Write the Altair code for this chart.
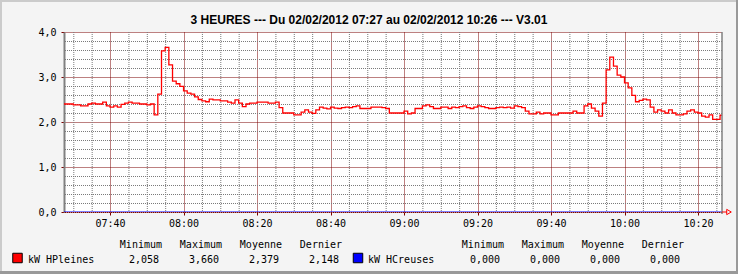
import altair as alt
import pandas as pd

DAY = "2012-02-02 "
MONO = "DejaVu Sans Mono"

# ---- data: change points of the HPleines step series (1-minute steps) ----
hp_times = ["07:27", "07:30", "07:32", "07:34", "07:35", "07:36", "07:38", "07:39",
            "07:40", "07:41", "07:42", "07:43", "07:44", "07:45", "07:46", "07:48",
            "07:50", "07:51", "07:52", "07:53", "07:54", "07:55", "07:56", "07:57",
            "07:58", "07:59", "08:00", "08:01", "08:02", "08:03", "08:04", "08:05",
            "08:06", "08:07", "08:08", "08:10", "08:12", "08:13", "08:14", "08:15",
            "08:16", "08:17", "08:18", "08:20", "08:23", "08:25", "08:26", "08:27",
            "08:30", "08:32", "08:33", "08:34", "08:35", "08:36", "08:37", "08:38",
            "08:39", "08:40", "08:41", "08:42", "08:43", "08:44", "08:45", "08:46",
            "08:47", "08:48", "08:51", "08:54", "08:55", "08:56", "09:00", "09:01",
            "09:02", "09:03", "09:05", "09:06", "09:07", "09:08", "09:10", "09:12",
            "09:13", "09:14", "09:15", "09:16", "09:17", "09:18", "09:19", "09:20",
            "09:21", "09:22", "09:23", "09:25", "09:26", "09:27", "09:28", "09:29",
            "09:30", "09:31", "09:32", "09:33", "09:34", "09:36", "09:37", "09:38",
            "09:40", "09:42", "09:46", "09:47", "09:49", "09:50", "09:51", "09:52",
            "09:53", "09:54", "09:55", "09:56", "09:57", "09:58", "09:59", "10:00",
            "10:01", "10:02", "10:03", "10:04", "10:05", "10:06", "10:07", "10:08",
            "10:09", "10:10", "10:11", "10:12", "10:13", "10:14", "10:16", "10:17",
            "10:18", "10:19", "10:20", "10:21", "10:22", "10:23", "10:24", "10:26",
            "10:27"]
hp_values = [2.40, 2.38, 2.36, 2.40, 2.42, 2.40, 2.44, 2.36,
             2.33, 2.36, 2.33, 2.39, 2.42, 2.44, 2.42, 2.40,
             2.38, 2.40, 2.16, 2.62, 3.58, 3.66, 3.27, 2.91,
             2.85, 2.79, 2.69, 2.64, 2.62, 2.56, 2.50, 2.47,
             2.45, 2.51, 2.49, 2.47, 2.44, 2.42, 2.49, 2.42,
             2.34, 2.40, 2.42, 2.44, 2.42, 2.44, 2.32, 2.20,
             2.16, 2.22, 2.27, 2.22, 2.19, 2.27, 2.33, 2.31,
             2.29, 2.33, 2.31, 2.30, 2.32, 2.33, 2.32, 2.34,
             2.36, 2.30, 2.33, 2.32, 2.30, 2.20, 2.24, 2.18,
             2.20, 2.30, 2.36, 2.38, 2.34, 2.30, 2.33, 2.30,
             2.33, 2.32, 2.34, 2.36, 2.32, 2.30, 2.33, 2.36,
             2.34, 2.32, 2.30, 2.32, 2.33, 2.32, 2.33, 2.31,
             2.36, 2.34, 2.32, 2.24, 2.18, 2.22, 2.18, 2.20,
             2.16, 2.20, 2.24, 2.20, 2.36, 2.40, 2.31, 2.24,
             2.13, 2.42, 3.16, 3.44, 3.24, 3.04, 3.00, 2.87,
             2.76, 2.59, 2.45, 2.48, 2.51, 2.49, 2.33, 2.22,
             2.27, 2.24, 2.20, 2.27, 2.20, 2.16, 2.18, 2.24,
             2.27, 2.22, 2.20, 2.13, 2.11, 2.16, 2.06, 2.15,
             2.15]

hc_times = ["07:27", "10:27"]
hc_values = [0.0, 0.0]

title_text = "3 HEURES --- Du 02/02/2012 07:27 au 02/02/2012 10:26 --- V3.01"
series_names = ["kW HPleines", "kW HCreuses"]
series_colors = ["#FF0000", "#0000FF"]
stat_names = ["Minimum", "Maximum", "Moyenne", "Dernier"]
hp_stats = ["2,058", "3,660", "2,379", "2,148"]
hc_stats = ["0,000", "0,000", "0,000", "0,000"]

major_x = ["07:40", "08:00", "08:20", "08:40", "09:00", "09:20", "09:40", "10:00", "10:20"]
minor_x = ["07:30", "07:35", "07:45", "07:50", "07:55", "08:05", "08:10", "08:15",
           "08:25", "08:30", "08:35", "08:45", "08:50", "08:55", "09:05", "09:10",
           "09:15", "09:25", "09:30", "09:35", "09:45", "09:50", "09:55", "10:05",
           "10:10", "10:15", "10:25"]
major_y = [0, 1, 2, 3, 4]
minor_y = [0.2, 0.4, 0.6, 0.8, 1.2, 1.4, 1.6, 1.8, 2.2, 2.4, 2.6, 2.8, 3.2, 3.4, 3.6, 3.8]


def ts(hhmm):
    return pd.Timestamp(DAY + hhmm)


def dt(hhmm, sec=0):
    h, m = hhmm.split(":")
    return alt.DateTime(year=2012, month=2, date=2, hours=int(h), minutes=int(m), seconds=sec)


hp_df = pd.DataFrame({"t": [ts(t) for t in hp_times], "v": hp_values})
hc_df = pd.DataFrame({"t": [ts(t) for t in hc_times], "v": hc_values})
minx_df = pd.DataFrame({"t": [ts(t) for t in minor_x]})
miny_df = pd.DataFrame({"v": minor_y})
zero_df = pd.DataFrame({"v": [major_y[0]]})
one_df = pd.DataFrame({"a": [0]})

GRID_MAJOR = "#7A0000"
GRID_MINOR = "#7A7A7A"

x_scale = alt.Scale(domain=[dt("07:27", 28), dt("10:26", 32)])
y_scale = alt.Scale(domain=[major_y[0], major_y[-1]], nice=False, zero=False)

x_axis = alt.Axis(values=[dt(t) for t in major_x], format="%H:%M", grid=True,
                  gridColor=GRID_MAJOR, gridDash=[1, 1], gridWidth=1, domain=False,
                  ticks=True, tickColor=GRID_MAJOR, tickSize=3, labelFont=MONO,
                  labelFontSize=10, labelColor="black", labelPadding=3,
                  labelFlush=False, labelOverlap=False)
y_axis = alt.Axis(values=major_y, labelExpr="replace(format(datum.value, '.1f'), '.', ',')",
                  grid=True, gridColor=GRID_MAJOR, gridDash=[1, 1], gridWidth=1,
                  domain=True, domainColor="#808080", domainWidth=2, ticks=True,
                  tickColor=GRID_MAJOR, tickSize=3, labelFont=MONO, labelFontSize=10,
                  labelColor="black", labelPadding=5, labelFlush=False, labelOverlap=False)

X = alt.X("t:T", scale=x_scale, axis=x_axis, title=None)
Y = alt.Y("v:Q", scale=y_scale, axis=y_axis, title=None)

minor_xr = alt.Chart(minx_df).mark_rule(color=GRID_MINOR, strokeDash=[1, 1], strokeWidth=1,
                                        xOffset=0.5).encode(x=X)
minor_yr = alt.Chart(miny_df).mark_rule(color=GRID_MINOR, strokeDash=[1, 1], strokeWidth=1,
                                        yOffset=0.5).encode(y=Y)

hc_line = alt.Chart(hc_df).mark_line(interpolate="step-after", color=series_colors[1],
                                     strokeWidth=1.2, clip=True).encode(x=X, y=Y)
zero_rule = alt.Chart(zero_df).mark_rule(color=GRID_MAJOR, strokeDash=[1, 1], strokeWidth=1,
                                         yOffset=0.5).encode(y=Y)
hp_line = alt.Chart(hp_df).mark_line(interpolate="step-after", color=series_colors[0],
                                     strokeWidth=1.3, clip=True).encode(x=X, y=Y)

W, H = 658, 180

right_frame = alt.Chart(one_df).mark_rule(color="#808080", strokeWidth=1.5).encode(
    x=alt.value(W), y=alt.value(0), y2=alt.value(H + 2))
arrow_stub = alt.Chart(one_df).mark_rule(color="#FF0000", strokeWidth=1).encode(
    x=alt.value(W), x2=alt.value(W + 5), y=alt.value(H))
arrow = alt.Chart(one_df).mark_point(shape="triangle-right", filled=False, color="#FF0000",
                                     size=28, strokeWidth=1, opacity=1).encode(
    x=alt.value(W + 7), y=alt.value(H))

# outer frame of the picture
border_light = "#CBCBCB"
border_dark = "#999999"
b_top = alt.Chart(one_df).mark_rule(color=border_light, strokeWidth=2).encode(
    x=alt.value(-64), x2=alt.value(W + 16), y=alt.value(-31))
b_left = alt.Chart(one_df).mark_rule(color=border_light, strokeWidth=2).encode(
    x=alt.value(-63), y=alt.value(-32), y2=alt.value(H + 62))
b_right = alt.Chart(one_df).mark_rule(color=border_dark, strokeWidth=2).encode(
    x=alt.value(W + 15), y=alt.value(-32), y2=alt.value(H + 62))
b_bottom = alt.Chart(one_df).mark_rule(color=border_dark, strokeWidth=3).encode(
    x=alt.value(-64), x2=alt.value(W + 16), y=alt.value(H + 60.5))

# title drawn as text, centred on the whole picture
title_df = pd.DataFrame({"txt": [title_text]})
title_mark = alt.Chart(title_df).mark_text(font="Liberation Sans", fontSize=12, fontWeight="bold",
                                           align="center", baseline="alphabetic", color="black").encode(
    x=alt.value(305), y=alt.value(-8), text="txt:N")

# legend block (pixel layout relative to plot origin)
rows = []
for i, name in enumerate(stat_names):
    rows.append({"px": 98 + 60 * i, "py": 213, "txt": name})
    rows.append({"px": 440 + 60 * i, "py": 213, "txt": name})
    rows.append({"px": 95 + 60 * i, "py": 228, "txt": hp_stats[i]})
    rows.append({"px": 436 + 60 * i, "py": 228, "txt": hc_stats[i]})
stat_df = pd.DataFrame(rows)
name_df = pd.DataFrame({"px": [-36, 304], "py": [228, 228], "txt": series_names})
sq_df = pd.DataFrame({"px": [-46.5, 294], "py": [226, 226], "c": series_colors})

stat_txt = alt.Chart(stat_df).mark_text(font=MONO, fontSize=10, align="right",
                                         baseline="middle", color="black").encode(
    x=alt.X("px:Q", scale=None), y=alt.Y("py:Q", scale=None), text="txt:N")
name_txt = alt.Chart(name_df).mark_text(font=MONO, fontSize=10, align="left",
                                         baseline="middle", color="black").encode(
    x=alt.X("px:Q", scale=None), y=alt.Y("py:Q", scale=None), text="txt:N")
squares = alt.Chart(sq_df).mark_square(size=90, stroke="black", strokeWidth=1, opacity=1).encode(
    x=alt.X("px:Q", scale=None), y=alt.Y("py:Q", scale=None), fill=alt.Fill("c:N", scale=None))

chart = alt.layer(
    minor_xr, minor_yr, hc_line, zero_rule, hp_line, right_frame, arrow_stub, arrow,
    stat_txt, name_txt, squares, title_mark, b_top, b_left, b_right, b_bottom
).properties(
    width=W, height=H,
    autosize=alt.AutoSizeParams(type="none"),
    padding={"left": 64, "top": 32, "right": 16, "bottom": 62},
).configure(background="#F4F4F4").configure_view(stroke=None, fill="white")

chart.save("out.html", embed_options={"renderer": "svg", "actions": False})
